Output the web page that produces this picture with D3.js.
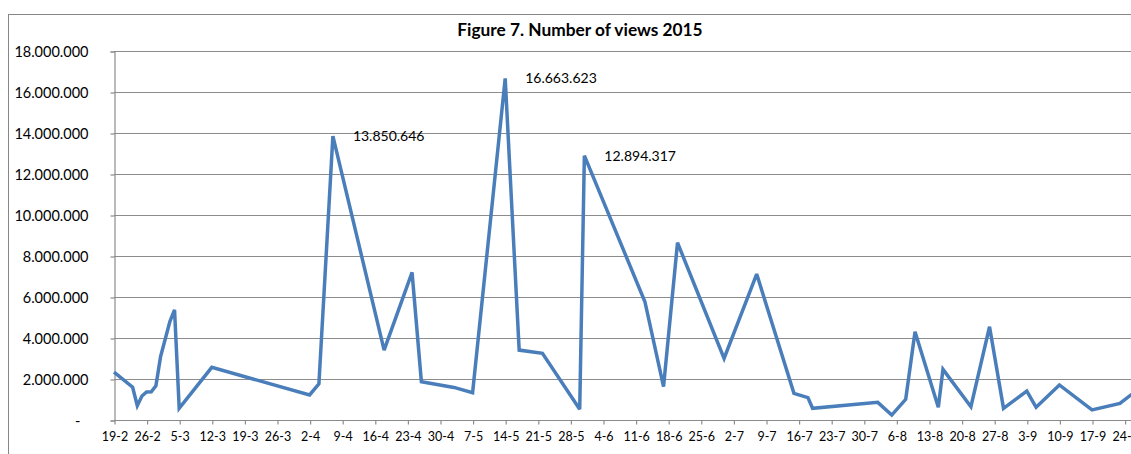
<!DOCTYPE html>
<html>
<head>
<meta charset="utf-8">
<script src="https://cdn.jsdelivr.net/npm/d3@7"></script>
<style>
  html, body { margin: 0; padding: 0; background: #fff; }
  svg { display: block; }
  text { font-family: Lato, "Liberation Sans", sans-serif; fill: #000; }
</style>
</head>
<body>
<svg id="chart" width="1131" height="454"></svg>
<script>
// ---- data ----
const title = "Figure 7. Number of views 2015";
const dates = [
  "2015-02-19","2015-02-23","2015-02-24","2015-02-25","2015-02-26","2015-02-27","2015-02-28",
  "2015-03-01","2015-03-03","2015-03-04","2015-03-05","2015-03-12",
  "2015-04-02","2015-04-04","2015-04-07","2015-04-18","2015-04-24","2015-04-26",
  "2015-05-03","2015-05-07","2015-05-14","2015-05-17","2015-05-22","2015-05-30","2015-05-31",
  "2015-06-13","2015-06-17","2015-06-20","2015-06-30",
  "2015-07-07","2015-07-15","2015-07-18","2015-07-19",
  "2015-08-02","2015-08-05","2015-08-08","2015-08-10","2015-08-15","2015-08-16","2015-08-22","2015-08-26","2015-08-29",
  "2015-09-03","2015-09-05","2015-09-10","2015-09-17","2015-09-23","2015-09-27"
];
const views = [
  2340000,1600000,700000,1170000,1370000,1380000,1670000,
  3090000,4800000,5370000,570000,2570000,
  1220000,1760000,13850646,3410000,7200000,1870000,
  1590000,1330000,16663623,3410000,3250000,520000,12894317,
  5770000,1630000,8650000,3000000,
  7120000,1300000,1090000,570000,
  860000,240000,1010000,4310000,620000,2470000,650000,4550000,570000,
  1410000,620000,1710000,490000,810000,1510000
];
const labelledDates = ["2015-04-07","2015-05-14","2015-05-31"];
const yTicks = [0,2000000,4000000,6000000,8000000,10000000,12000000,14000000,16000000,18000000];
const axisStart = "2015-02-19";
const axisEnd = "2015-10-01";

// ---- drawing ----
const parse = d3.timeParse("%Y-%m-%d");
const data = dates.map((d,i) => ({date: parse(d), value: views[i], key: d}));
const loc = d3.formatLocale({decimal: ",", thousands: ".", grouping: [3], currency: ["", ""]});
const fmt = loc.format(",.0f");

const svg = d3.select("#chart");
svg.append("rect").attr("width",1131).attr("height",454).attr("fill","#fff");
svg.append("rect").attr("x",8.5).attr("y",14.5).attr("width",1150).attr("height",470)
  .attr("fill","none").attr("stroke","#868686").attr("stroke-width",1);

svg.append("text").attr("x",580).attr("y",36).attr("text-anchor","middle")
  .style("font-weight","bold").style("font-size","17.3px").text(title);

const x0 = 114;
const dayPx = 32.6/7;
const start = parse(axisStart), end = parse(axisEnd);
const nDays = d3.timeDay.count(start, end);
const x = d3.scaleTime().domain([start, end]).range([x0, x0 + nDays*dayPx]);
const y = d3.scaleLinear().domain([0,18000000]).range([420,51]);
const xRight = 1160;

// gridlines
svg.append("g").selectAll("line").data(yTicks.filter(v=>v>0)).join("line")
  .attr("x1",x0).attr("x2",xRight)
  .attr("y1",d=>Math.round(y(d))+0.5).attr("y2",d=>Math.round(y(d))+0.5)
  .attr("stroke","#8c8c8c").attr("stroke-width",1.2);

// y axis
const yAxis = d3.axisLeft(y).tickValues(yTicks).tickSize(4).tickPadding(22)
  .tickFormat(d => d === 0 ? "-" : fmt(d));
const gy = svg.append("g").attr("transform",`translate(${x0+0.5},0.5)`).call(yAxis);
gy.select(".domain").attr("stroke","#8c8c8c").attr("stroke-width",1.2);
gy.selectAll(".tick line").attr("stroke","#8c8c8c").attr("stroke-width",1.2);
gy.selectAll(".tick text").style("font-size","14.5px").style("font-family","Lato, 'Liberation Sans', sans-serif").attr("fill","#000");
gy.selectAll(".tick text").filter(d=>d===0).attr("dx",-8);

// x axis
const xTickVals = d3.timeDay.every(1).range(start, d3.timeDay.offset(end,1)).filter((d,i)=> i%7===0);
const xAxis = d3.axisBottom(x).tickValues(xTickVals).tickSize(4).tickPadding(8)
  .tickFormat(d3.timeFormat("%-d-%-m"));
const gx = svg.append("g").attr("transform",`translate(0.5,${y(0)+0.5})`).call(xAxis);
gx.select(".domain").attr("stroke","#8c8c8c").attr("stroke-width",1.2).attr("d",`M${x0},0H${xRight}`);
gx.selectAll(".tick line").attr("stroke","#8c8c8c").attr("stroke-width",1.2);
gx.selectAll(".tick text").style("font-size","12.5px").style("font-family","Lato, 'Liberation Sans', sans-serif").attr("fill","#000");

// line
const line = d3.line().x(d=>x(d.date)).y(d=>y(d.value));
svg.append("path").datum(data).attr("d",line).attr("fill","none")
  .attr("stroke","#4a7ebb").attr("stroke-width",3.5).attr("stroke-linejoin","miter").attr("stroke-miterlimit",3);

// data labels
svg.append("g").selectAll("text").data(data.filter(d=>labelledDates.includes(d.key))).join("text")
  .attr("x",d=>x(d.date)+20).attr("y",d=>y(d.value)).attr("dy","0.35em")
  .style("font-size","14px").text(d=>fmt(d.value));
</script>
</body>
</html>
